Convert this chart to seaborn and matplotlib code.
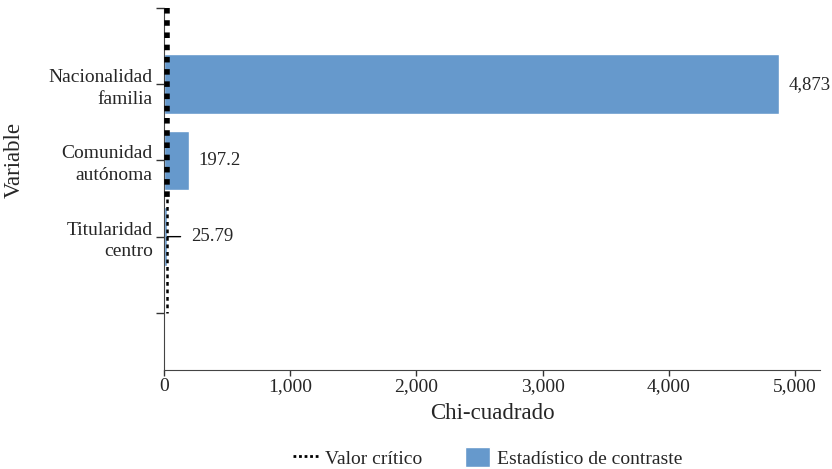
import matplotlib
matplotlib.use("Agg")
import matplotlib.pyplot as plt
import seaborn as sns
import pandas as pd
from matplotlib.lines import Line2D
from matplotlib.patches import Patch

# datos
variables = ["Nacionalidad\nfamilia", "Comunidad\nautónoma", "Titularidad\ncentro"]
chi2 = [4873, 197.2, 25.79]
etiquetas = ["4,873", "197.2", "25.79"]
valor_critico = 28
xticks = [0, 1000, 2000, 3000, 4000, 5000]
xtick_labels = ["0", "1,000", "2,000", "3,000", "4,000", "5,000"]

df = pd.DataFrame({"Variable": variables, "Chi": chi2})

sns.set_style("ticks")
plt.rcParams["font.family"] = ["Liberation Serif", "DejaVu Serif"]
color = "#6699cc"

fig = plt.figure(figsize=(8.32, 4.69), dpi=100)
ax = fig.add_axes([0.197, 0.211, 0.789, 0.772])

sns.barplot(data=df, x="Chi", y="Variable", orient="h", color=color,
            saturation=1, width=0.78, ax=ax, zorder=2)

# valor critico (linea punteada)
ax.vlines(valor_critico, -1, 1.5, colors="black", linestyles=(0, (1, 1.2)),
          linewidth=4, zorder=3)
ax.vlines(valor_critico, 1.5, 3, colors="black", linestyles=(0, (1.5, 1.5)),
          linewidth=1.8, zorder=3)

# etiquetas de valores
for i, (v, t) in enumerate(zip(chi2, etiquetas)):
    if v < 100:
        ax.annotate(t, xy=(v, i), xytext=(17, 0), textcoords="offset points",
                    va="center", ha="left", fontsize=13.5,
                    arrowprops=dict(arrowstyle="-", color="black", lw=1,
                                    shrinkA=5, shrinkB=0))
    else:
        ax.annotate(t, xy=(v, i), xytext=(7, 0), textcoords="offset points",
                    va="center", ha="left", fontsize=13.5)

ax.set_xlim(0, 5200)
ax.set_ylim(3.75, -1)
ax.set_yticks([-1, 0, 1, 2, 3])
ax.set_yticklabels([""] + variables + [""], fontsize=14, linespacing=1.35)
ax.set_xticks(xticks)
ax.set_xticklabels(xtick_labels, fontsize=14)
ax.tick_params(axis="y", length=6, width=1, color="#333333", pad=2)
ax.tick_params(axis="x", length=4, width=1, color="#333333", pad=1.5)
ax.set_xlabel("Chi-cuadrado", fontsize=16.5, labelpad=6)
ax.set_ylabel("Variable", fontsize=16.5)
ax.yaxis.set_label_coords(-0.212, 0.58)
sns.despine(ax=ax)
for s in ["left", "bottom"]:
    ax.spines[s].set_color("#444444")

handles = [Line2D([0], [0], color="black", linestyle=(0, (1, 1)), lw=2),
           Patch(facecolor=color)]
fig.legend(handles, ["Valor crítico", "Estadístico de contraste"],
           loc="lower center", bbox_to_anchor=(0.586, -0.035), ncol=2,
           frameon=False, fontsize=14, handlelength=1.3, handleheight=1.2,
           handletextpad=0.35, columnspacing=2.2)

fig.savefig("out.png", dpi=100)
